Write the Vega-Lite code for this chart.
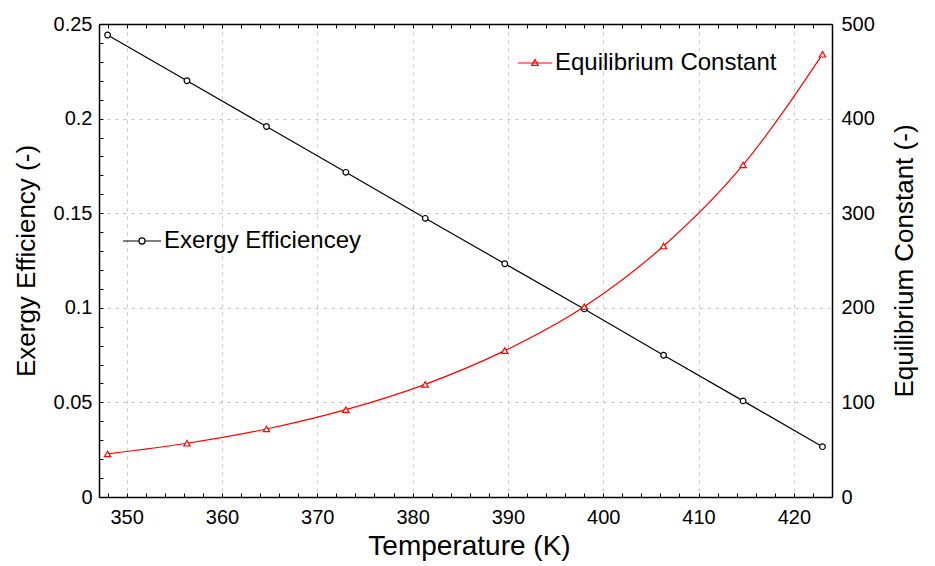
{
  "$schema": "https://vega.github.io/schema/vega-lite/v6.json",
  "autosize": {"type": "none"},
  "width": 733,
  "height": 473,
  "padding": {"left": 99, "top": 24, "right": 103, "bottom": 69},
  "background": "white",
  "config": {
    "view": {"stroke": null},
    "font": "Liberation Sans",
    "axis": {
      "domainColor": "black",
      "domainWidth": 1.5,
      "tickColor": "black",
      "labelColor": "black",
      "titleColor": "black",
      "labelFont": "Liberation Sans",
      "titleFont": "Liberation Sans",
      "labelFontSize": 20,
      "titleFontSize": 26,
      "titleFontWeight": "normal",
      "gridDash": [3, 5],
      "gridWidth": 1
    },
    "legend": {
      "labelFont": "Liberation Sans",
      "labelFontSize": 24,
      "labelColor": "black",
      "labelLimit": 0
    }
  },
  "data": {
    "values": [
      {"T": 348, "eff": 0.2442, "K": 45.5},
      {"T": 356.33, "eff": 0.2200, "K": 56.8},
      {"T": 364.67, "eff": 0.1958, "K": 71.9},
      {"T": 373, "eff": 0.1716, "K": 92.3},
      {"T": 381.33, "eff": 0.1473, "K": 119.1},
      {"T": 389.67, "eff": 0.1233, "K": 154.7},
      {"T": 398, "eff": 0.0994, "K": 201.2},
      {"T": 406.33, "eff": 0.0749, "K": 265.3},
      {"T": 414.67, "eff": 0.0508, "K": 351},
      {"T": 423, "eff": 0.0266, "K": 468}
    ]
  },
  "layer": [
    {
      "mark": {
        "type": "line",
        "strokeWidth": 1.2,
        "point": {"shape": "circle", "filled": false, "fill": "white", "size": 32, "strokeWidth": 1.2}
      },
      "encoding": {
        "x": {
          "field": "T",
          "type": "quantitative",
          "scale": {"domain": [347.1, 424], "nice": false, "zero": false},
          "axis": {
            "orient": "bottom",
            "title": "Temperature (K)",
            "titleFontSize": 28,
            "titleX": 370,
            "values": [348,350,352,354,356,358,360,362,364,366,368,370,372,374,376,378,380,382,384,386,388,390,392,394,396,398,400,402,404,406,408,410,412,414,416,418,420,422,424],
            "format": "d",
            "labelExpr": "datum.value % 10 === 0 ? datum.label : ''",
            "grid": true,
            "gridColor": {"condition": {"test": "datum.value % 10 === 0", "value": "#c4c4c4"}, "value": "transparent"},
            "tickSize": -4,
            "labelPadding": 14,
            "titlePadding": 5,
            "labelFlush": false
          }
        },
        "y": {
          "field": "eff",
          "type": "quantitative",
          "scale": {"domain": [0, 0.25], "nice": false},
          "axis": {
            "orient": "left",
            "title": "Exergy Efficiency (-)",
            "values": [0,0.01,0.02,0.03,0.04,0.05,0.06,0.07,0.08,0.09,0.1,0.11,0.12,0.13,0.14,0.15,0.16,0.17,0.18,0.19,0.2,0.21,0.22,0.23,0.24,0.25],
            "format": "~g",
            "labelExpr": "round(datum.value * 100) % 5 === 0 ? datum.label : ''",
            "grid": true,
            "gridColor": {"condition": {"test": "round(datum.value * 100) % 5 === 0 && datum.value > 0 && datum.value < 0.25", "value": "#c4c4c4"}, "value": "transparent"},
            "tickSize": -4,
            "labelPadding": 11,
            "titlePadding": 14,
            "labelFlush": false
          }
        },
        "color": {
          "datum": "Exergy Efficiencey",
          "type": "nominal",
          "scale": {"range": ["black"]},
          "legend": {
            "title": null,
            "orient": "none",
            "legendX": 23,
            "legendY": 197,
            "padding": 0,
            "symbolType": "M-1,0H-0.16M0.16,0H1M-0.16,0A0.16,0.16,0,1,0,0.16,0A0.16,0.16,0,1,0,-0.16,0",
            "symbolSize": 1444,
            "symbolStrokeWidth": 1.2,
            "symbolFillColor": "white",
            "symbolStrokeColor": "black",
            "labelOffset": 2
          }
        }
      }
    },
    {
      "mark": {
        "type": "line",
        "interpolate": "monotone",
        "strokeWidth": 1.2,
        "point": {"shape": "triangle-up", "filled": false, "fill": "white", "size": 40, "strokeWidth": 1.2}
      },
      "encoding": {
        "x": {
          "field": "T",
          "type": "quantitative",
          "scale": {"domain": [347.1, 424], "nice": false, "zero": false},
          "axis": {
            "orient": "top",
            "title": null,
            "values": [348,350,352,354,356,358,360,362,364,366,368,370,372,374,376,378,380,382,384,386,388,390,392,394,396,398,400,402,404,406,408,410,412,414,416,418,420,422,424],
            "labels": false,
            "grid": false,
            "tickSize": -4
          }
        },
        "y": {
          "field": "K",
          "type": "quantitative",
          "scale": {"domain": [0, 500], "nice": false},
          "axis": {
            "orient": "right",
            "title": "Equilibrium Constant (-)",
            "titleAngle": -90,
            "titleBaseline": "top",
            "values": [0, 100, 200, 300, 400, 500],
            "ticks": false,
            "grid": false,
            "labelPadding": 9,
            "titlePadding": 17,
            "labelFlush": false
          }
        },
        "color": {
          "datum": "Equilibrium Constant",
          "type": "nominal",
          "scale": {"range": ["#ff0000"]},
          "legend": {
            "title": null,
            "orient": "none",
            "legendX": 418,
            "legendY": 21,
            "padding": 0,
            "symbolType": "M-1,0H1M0,-0.2L0.19,0.14L-0.19,0.14Z",
            "symbolSize": 1156,
            "symbolStrokeWidth": 1.2,
            "symbolFillColor": "white",
            "symbolStrokeColor": "#ff0000",
            "labelOffset": 2
          }
        }
      }
    }
  ],
  "resolve": {
    "scale": {"y": "independent", "color": "independent"},
    "axis": {"x": "independent"}
  }
}
